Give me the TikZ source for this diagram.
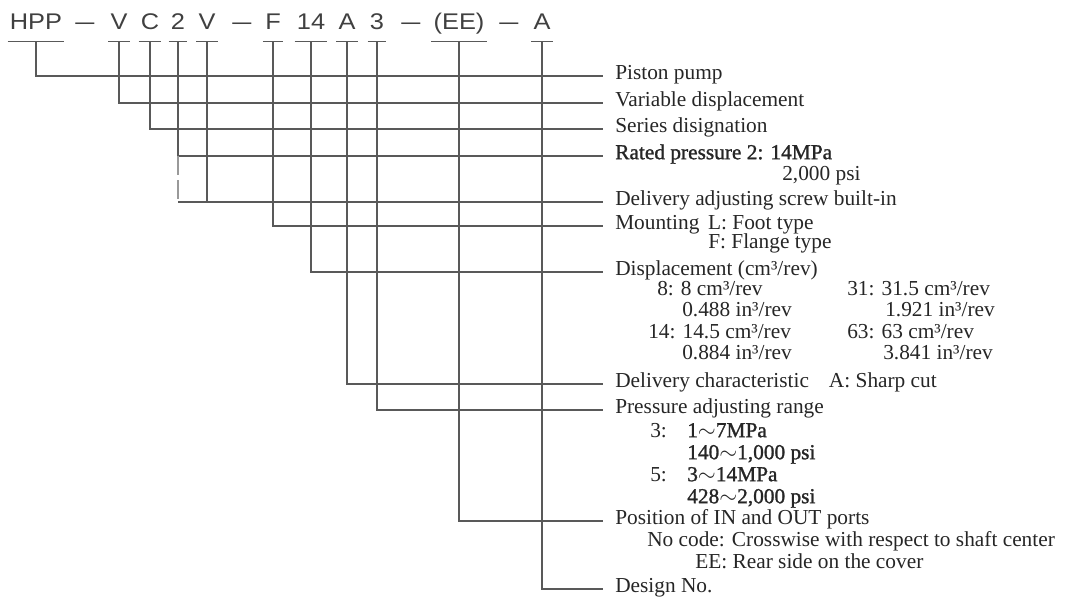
\documentclass[tikz,border=0pt]{standalone}
\usepackage{fontspec}
\setmainfont{Liberation Serif}
\newfontfamily\codefont[FakeStretch=1.12]{Liberation Sans}
\newfontfamily\heavyfont[FakeBold=1.2]{Liberation Serif}
\usepackage{tikz}

\tikzset{
  code/.style={font=\codefont\fontsize{17}{17}\selectfont, text=black!75, anchor=base,
    inner xsep=1.5pt, inner ysep=0pt, text depth=9pt},
  lbl/.style={font=\fontsize{16}{16}\selectfont, text=black!85, anchor=west,
    inner sep=0pt, text height=0.7em, text depth=0.22em},
  heavy/.style={font=\heavyfont\fontsize{16}{16}\selectfont},
  lead/.style={black!65, line width=0.9pt, shorten >=9pt},
  under/.style={black!65, line width=0.9pt},
  faintlead/.style={black!40, line width=0.8pt, dash pattern=on 14pt off 4pt},
}
\newcommand{\codedash}{\scalebox{1.35}[1]{–}}

\begin{document}
\begin{tikzpicture}[x=0.75pt, y=-0.75pt]
  \useasboundingbox (0,0) rectangle (1073,600);
  \node[code] (hpp) at (36,29) {HPP};
  \node[code] (dash1) at (85,29) {\codedash};
  \node[code] (var) at (119,29) {V};
  \node[code] (ser) at (150,29) {C};
  \node[code] (two) at (178,29) {2};
  \node[code] (scr) at (207,29) {V};
  \node[code] (dash2) at (242,29) {\codedash};
  \node[code] (mnt) at (273,29) {F};
  \node[code] (dsp) at (311,29) {14};
  \node[code] (chr) at (347,29) {A};
  \node[code] (rng) at (377,29) {3};
  \node[code] (dash3) at (411,29) {\codedash};
  \node[code] (prt) at (459,29) {(EE)};
  \node[code] (dash4) at (509,29) {\codedash};
  \node[code] (dsg) at (542,29) {A};
  \foreach \n in {hpp,var,ser,two,scr,mnt,dsp,chr,rng,prt,dsg}
    \draw[under] (\n.south west) -- (\n.south east);

  \node[lbl] (piston) at (615,76) {Piston pump};
  \node[lbl] (variable) at (615,103) {Variable displacement};
  \node[lbl] (series) at (615,129) {Series disignation};
  \node[lbl, heavy] (rated) at (615,156) {Rated pressure 2: 14MPa};
  \node[lbl] (ratedpsi) at (782,177) {2,000 psi};
  \node[lbl] (screw) at (615,202) {Delivery adjusting screw built-in};
  \node[lbl] (mounting) at (615,226) {Mounting\hspace{6.5pt}L: Foot type};
  \node[lbl] (flange) at (708,245) {F: Flange type};
  \node[lbl] (displacement) at (615,272) {Displacement (cm³/rev)};
  \node[lbl] (cm8) at (657,292) {8: 8 cm³/rev};
  \node[lbl] (in8) at (682,313) {0.488 in³/rev};
  \node[lbl] (cm14) at (648,335) {14: 14.5 cm³/rev};
  \node[lbl] (in14) at (682,356) {0.884 in³/rev};
  \node[lbl] (cm31) at (847,292) {31: 31.5 cm³/rev};
  \node[lbl] (in31) at (885,313) {1.921 in³/rev};
  \node[lbl] (cm63) at (847,335) {63: 63 cm³/rev};
  \node[lbl] (in63) at (883,356) {3.841 in³/rev};
  \node[lbl] (character) at (615,384) {Delivery characteristic\hspace{15pt}A: Sharp cut};
  \node[lbl] (pressure) at (615,410) {Pressure adjusting range};
  \node[lbl] (key3) at (650,434) {3:};
  \node[lbl, heavy] (mpa3) at (687,434) {1$\sim$7MPa};
  \node[lbl, heavy] (psi3) at (687,456) {140$\sim$1,000 psi};
  \node[lbl] (key5) at (650,478) {5:};
  \node[lbl, heavy] (mpa5) at (687,478) {3$\sim$14MPa};
  \node[lbl, heavy] (psi5) at (687,500) {428$\sim$2,000 psi};
  \node[lbl] (ports) at (615,521) {Position of IN and OUT ports};
  \node[lbl] (nocode) at (647,543) {No code: Crosswise with respect to shaft center};
  \node[lbl] (eecode) at (695,565) {EE: Rear side on the cover};
  \node[lbl] (design) at (615,589) {Design No.};

  \draw[lead] (hpp.south) |- (piston.west);
  \draw[lead] (var.south) |- (variable.west);
  \draw[lead] (ser.south) |- (series.west);
  \draw[lead] (two.south) |- (rated.west);
  \draw[faintlead] (two.south |- rated.west) -- (two.south |- screw.west);
  \draw[lead] (two.south |- screw.west) -- (screw.west);
  \draw[under] (scr.south) -- (scr.south |- screw.west);
  \draw[lead] (mnt.south) |- (mounting.west);
  \draw[lead] (dsp.south) |- (displacement.west);
  \draw[lead] (chr.south) |- (character.west);
  \draw[lead] (rng.south) |- (pressure.west);
  \draw[lead] (prt.south) |- (ports.west);
  \draw[lead] (dsg.south) |- (design.west);
\end{tikzpicture}
\end{document}
